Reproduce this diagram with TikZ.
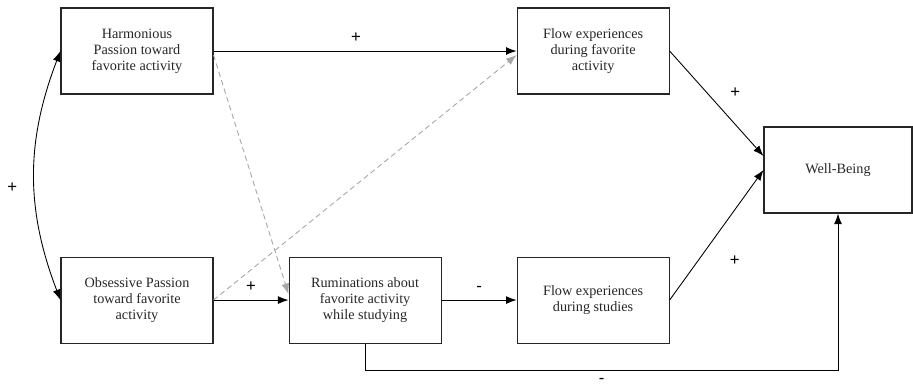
\documentclass[tikz,border=0pt]{standalone}
\usepackage{fontspec}
\setmainfont{Liberation Serif}
\newfontfamily\signfont{Liberation Sans}
\usetikzlibrary{arrows.meta, positioning, calc}

\tikzset{
  box/.style={rectangle, draw=black!85, line width=0.6pt, minimum width=3.04cm, minimum height=1.72cm, inner sep=2pt, align=center, font=\fontsize{8.1}{9.2}\selectfont, text=black!85},
  sign/.style={font=\signfont\fontsize{9.5}{10}\selectfont, inner sep=1pt},
  link/.style={-{Latex[length=6pt,width=4.5pt]}, line width=0.5pt},
  dashlink/.style={link, draw=black!35, dash pattern=on 3pt off 2pt}
}

\begin{document}
\begin{tikzpicture}
\useasboundingbox (0,0) rectangle (18.26,-7.78);
\node[box] (harm) at (2.74,-1.02) {Harmonious\\Passion toward\\favorite activity};
\node[box, below=3.24cm of harm] (obs) {Obsessive Passion\\toward favorite\\activity};
\node[box, right=1.5cm of obs] (rumin) {Ruminations about\\favorite activity\\while studying};
\node[box, right=1.5cm of rumin] (flow_stud) {Flow experiences\\during studies};
\node[box, above=3.24cm of flow_stud] (flow_fav) {Flow experiences\\during favorite\\activity};
\node[box, minimum width=2.96cm] (well) at (16.76,-3.4) {Well-Being};

% direct paths
\path[link]
	(harm.east) edge node[pos=0.47, above=0.12cm, sign] {+} (flow_fav.west)
	(obs.east) edge node[above=0.12cm, sign] {+} (rumin.west)
	(rumin.east) edge node[above=0.12cm, sign] {-} (flow_stud.west)
	(flow_fav.east) edge node[pos=0.4, right=0.42cm, sign] {+} ([yshift=0.28cm]well.west)
	(flow_stud.east) edge node[pos=0.3, right=0.6cm, sign] {+} (well.west)
;
\draw[link] (rumin.south) -- ++(0,-0.54) -| (well.south) node[pos=0.25, below=0.12cm, sign] {-};

% cross paths
\draw[dashlink] ([yshift=-0.08cm]harm.east) -- ([yshift=0.12cm]rumin.west);
\draw[dashlink] (obs.east) -- ([yshift=-0.08cm]flow_fav.west);

% correlation
\draw[{Latex[length=6pt,width=4.5pt]}-{Latex[length=6pt,width=4.5pt]}, line width=0.5pt]
	(harm.west) to[bend right=21] node[left=0.3cm, yshift=-0.24cm, sign] {+} (obs.west);
\end{tikzpicture}
\end{document}
